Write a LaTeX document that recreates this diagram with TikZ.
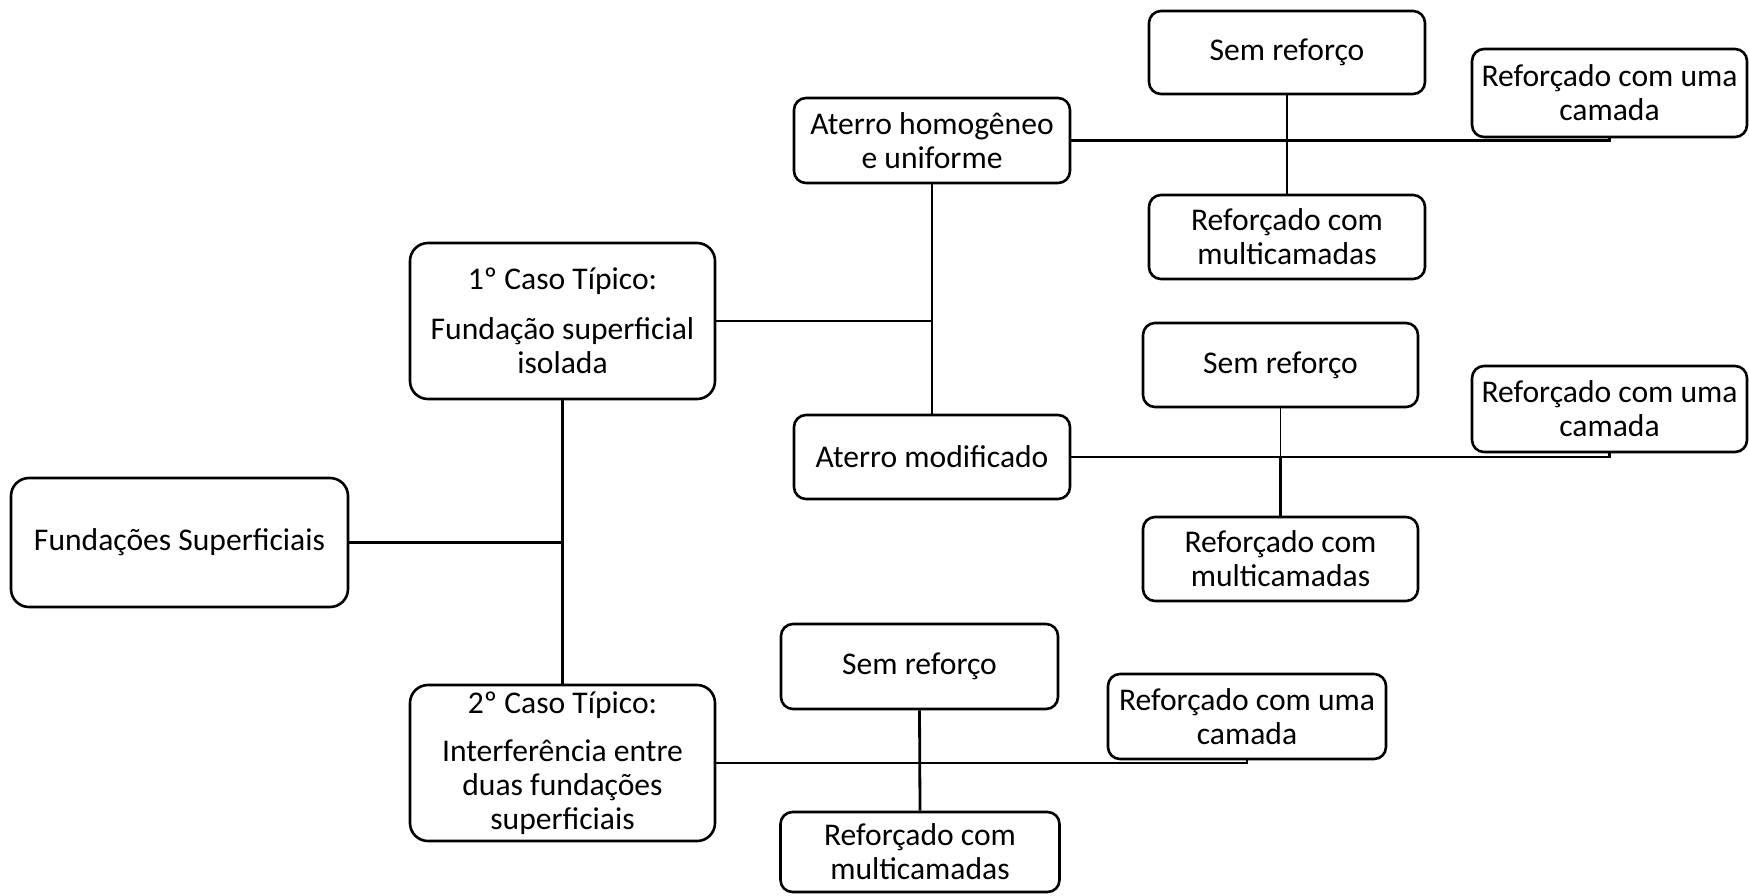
\documentclass[tikz,border=0pt]{standalone}
\usepackage{fontspec}
\setmainfont{Carlito}
\begin{document}
\begin{tikzpicture}[x=0.5pt,y=-0.5pt,
  box/.style={draw, line width=1.3pt, rounded corners=6pt, align=center, inner sep=0pt,
    font=\fontsize{15.8}{17}\selectfont},
  bigbox/.style={box, rounded corners=9pt},
  conn/.style={line width=1.4pt}]
\useasboundingbox (0,0) rectangle (1749,895);

\node[bigbox, minimum width=168.5pt, minimum height=64.5pt] (F) at (179.5,542.5) {Fundações Superficiais};
\node[bigbox, minimum width=152.5pt, minimum height=78pt] (C1) at (562.5,321) {1º Caso Típico:\\[8pt]Fundação superficial\\isolada};
\node[bigbox, minimum width=152.5pt, minimum height=78pt] (C2) at (562.5,763) {2º Caso Típico:\\[7pt]Interferência entre\\duas fundações\\superficiais};

\node[box, minimum width=138pt, minimum height=42.5pt] (A1) at (932,140.5) {Aterro homogêneo\\e uniforme};
\node[box, minimum width=138pt, minimum height=42pt] (A2) at (932,457) {Aterro modificado};

\node[box, minimum width=138pt, minimum height=41.5pt] (S1) at (1287,52.5) {Sem reforço};
\node[box, minimum width=137.5pt, minimum height=44pt] (U1) at (1609.5,93) {Reforçado com uma\\camada};
\node[box, minimum width=138pt, minimum height=42pt] (M1) at (1287,237) {Reforçado com\\multicamadas};

\node[box, minimum width=137.5pt, minimum height=42pt] (S2) at (1280.5,365) {Sem reforço};
\node[box, minimum width=137.5pt, minimum height=43pt] (U2) at (1609.5,409) {Reforçado com uma\\camada};
\node[box, minimum width=137.5pt, minimum height=42pt] (M2) at (1280.5,559) {Reforçado com\\multicamadas};

\node[box, minimum width=138.5pt, minimum height=42.5pt] (S3) at (919.5,666.5) {Sem reforço};
\node[box, minimum width=139pt, minimum height=42.5pt] (U3) at (1247,716.5) {Reforçado com uma\\camada};
\node[box, minimum width=139.5pt, minimum height=40pt] (M3) at (920,852) {Reforçado com\\multicamadas};

\draw[conn] (C1.south) -- (C2.north);
\draw[conn] (F.east) -- (F.east -| C1.south);
\draw[conn] (A1.south) -- (A2.north);
\draw[conn] (C1.east) -- (C1.east -| A1.south);

\draw[conn] (A1.east) -| (U1.south);
\draw[conn] (S1.south) -- (M1.north);
\draw[conn] (A2.east) -| (U2.south);
\draw[line width=0.5pt] (S2.south) -- (S2.south |- A2.east);
\draw[conn] (S2.south |- A2.east) -- (M2.north);
\draw[conn] (C2.east) -| (U3.south);
\draw[conn] (S3.south) -- (M3.north);
\end{tikzpicture}
\end{document}
